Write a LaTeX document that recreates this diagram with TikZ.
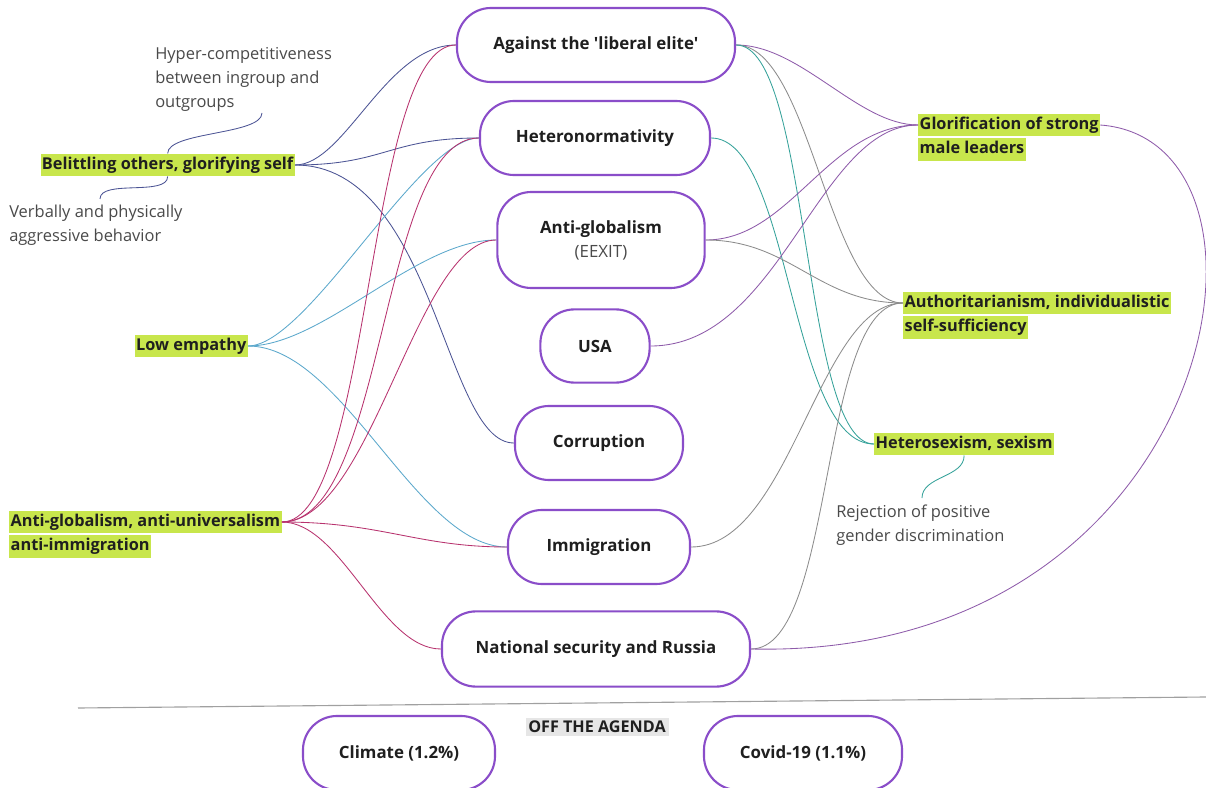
\documentclass[tikz,border=0pt]{standalone}
\usepackage{fontspec}
\setmainfont{Open Sans}
\usetikzlibrary{positioning}
\definecolor{Frame}{HTML}{8A4DC9}
\definecolor{Lime}{HTML}{C8E64C}
\definecolor{Ink}{HTML}{1F1F1F}
\definecolor{Remark}{HTML}{4A4A4A}
\definecolor{Shade}{HTML}{E6E6E6}
\definecolor{Rule}{HTML}{A0A0A0}
\definecolor{BelLine}{HTML}{4B5394}
\definecolor{EmpLine}{HTML}{5BA8CC}
\definecolor{GlobLine}{HTML}{B8326E}
\definecolor{LeadLine}{HTML}{8E5BAA}
\definecolor{AuthLine}{HTML}{8C8C8C}
\definecolor{SexLine}{HTML}{35A29A}

\begin{document}
\begin{tikzpicture}[x=0.025cm,y=-0.025cm,font=\fontsize{12}{17}\selectfont,topic/.style={draw=Frame,line width=1.5pt,rounded corners=0.85cm,fill=white,text=Ink,font=\fontsize{12}{17}\selectfont\bfseries,align=center,minimum height=1.85cm},trait/.style={fill=Lime,text=Ink,font=\fontsize{11.6}{17}\selectfont\bfseries,inner xsep=1pt,inner ysep=2pt,text height=9pt,text depth=3pt},remark/.style={text=Remark,align=left,anchor=north west,inner sep=0pt,font=\fontsize{11.7}{17}\selectfont},link/.style={line width=0.6pt}]
\path[use as bounding box,clip] (0,0) rectangle (1206,788);
\fill[white] (0,0) rectangle (1206,788);
% topics in the middle
\node[topic, minimum width=6.95cm] (lib) at (596,45) {Against the \textquotesingle liberal elite\textquotesingle};
\node[topic, minimum width=5.75cm] (het) at (595,138) {Heteronormativity};
\node[topic, minimum width=5.18cm, minimum height=2.4cm] (ag) at (601,240) {Anti-globalism\\{\mdseries\color{Remark}(EEXIT)}};
\node[topic, minimum width=2.73cm, minimum height=1.83cm] (usa) at (595,346) {USA};
\node[topic, minimum width=4.2cm] (cor) at (599,443) {Corruption};
\node[topic, minimum width=4.55cm] (imm) at (599,547) {Immigration};
\node[topic, minimum width=7.7cm, minimum height=1.88cm] (nat) at (596,649) {National security and Russia};
% traits on the left
\node[trait, anchor=east] (bel) at (295,165) {Belittling others, glorifying self};
\node[trait, anchor=east] (emp) at (248,346) {Low empathy};
\node[trait, anchor=west] (agl) at (9,522) {Anti-globalism, anti-universalism};
\node[trait, below=1pt of agl.south west, anchor=north west] (agl2) {anti-immigration};
% traits on the right
\node[trait, anchor=west] (glo) at (918,125) {Glorification of strong};
\node[trait, below=1pt of glo.south west, anchor=north west] (glo2) {male leaders};
\node[trait, anchor=west] (aut) at (903,303) {Authoritarianism, individualistic};
\node[trait, below=1pt of aut.south west, anchor=north west] (aut2) {self-sufficiency};
\node[trait, anchor=west] (hsx) at (874,444) {Heterosexism, sexism};
% remarks
\node[remark] (hyp) at (155,47) {Hyper-competitiveness\\between ingroup and\\outgroups};
\node[remark] (verb) at (9,205) {Verbally and physically\\aggressive behavior};
\node[remark] (rej) at (836,505) {Rejection of positive\\gender discrimination};
\coordinate (hypTip) at (262,113);
\coordinate (verbTip) at (100,199);
\coordinate (rejTip) at (922,498);
\draw[link, BelLine] (bel.north) .. controls +(0,-22) and +(0,22) .. (hypTip);
\draw[link, BelLine] (bel.south) .. controls +(0,20) and +(0,-20) .. (verbTip);
\draw[link, SexLine] (hsx.south) .. controls +(0,22) and +(0,-22) .. (rejTip);
% left links
\draw[link, BelLine] (bel.east) .. controls +(50,0) and +(-70,0) .. (lib.west);
\draw[link, BelLine] (bel.east) .. controls +(90,0) and +(-90,0) .. (het.west);
\draw[link, BelLine] (bel.east) .. controls +(140,0) and +(-70,0) .. (cor.west);
\draw[link, EmpLine] (emp.east) .. controls +(60,0) and +(-60,0) .. (het.west);
\draw[link, EmpLine] (emp.east) .. controls +(75,0) and +(-80,0) .. (ag.west);
\draw[link, EmpLine] (emp.east) .. controls +(95,0) and +(-90,0) .. (imm.west);
\draw[link, GlobLine] (agl.east) .. controls +(90,0) and +(-90,0) .. (lib.west);
\draw[link, GlobLine] (agl.east) .. controls +(105,0) and +(-100,0) .. (het.west);
\draw[link, GlobLine] (agl.east) .. controls +(90,0) and +(-80,0) .. (ag.west);
\draw[link, GlobLine] (agl.east) .. controls +(100,0) and +(-90,0) .. (imm.west);
\draw[link, GlobLine] (agl.east) .. controls +(60,0) and +(-60,0) .. (nat.west);
% right links
\draw[link, LeadLine] (lib.east) .. controls +(65,0) and +(-60,0) .. (glo.west);
\draw[link, AuthLine] (lib.east) .. controls +(75,0) and +(-75,0) .. (aut.west);
\draw[link, SexLine] (lib.east) .. controls +(75,0) and +(-73,0) .. (hsx.west);
\draw[link, SexLine] (het.east) .. controls +(80,0) and +(-85,0) .. (hsx.west);
\draw[link, LeadLine] (ag.east) .. controls +(85,0) and +(-90,0) .. (glo.west);
\draw[link, AuthLine] (ag.east) .. controls +(85,0) and +(-85,0) .. (aut.west);
\draw[link, LeadLine] (usa.east) .. controls +(130,0) and +(-100,0) .. (glo.west);
\draw[link, AuthLine] (imm.east) .. controls +(100,0) and +(-85,0) .. (aut.west);
\draw[link, AuthLine] (nat.east) .. controls +(85,0) and +(-85,0) .. (aut.west);
\draw[link, LeadLine] (glo.east) .. controls +(207,15) and +(470,11) .. (nat.east);
% off the agenda
\draw[Rule, line width=0.8pt] (78,708) -- (1206,697);
\node[fill=Shade, text=Ink, font=\fontsize{11.5}{14}\selectfont\bfseries, inner sep=2pt] (off) at (597,727) {OFF THE AGENDA};
\node[topic, minimum width=4.8cm] (cli) at (399,753) {Climate (1.2\%)};
\node[topic, minimum width=4.95cm] (cov) at (803,753) {Covid-19 (1.1\%)};
\end{tikzpicture}
\end{document}
